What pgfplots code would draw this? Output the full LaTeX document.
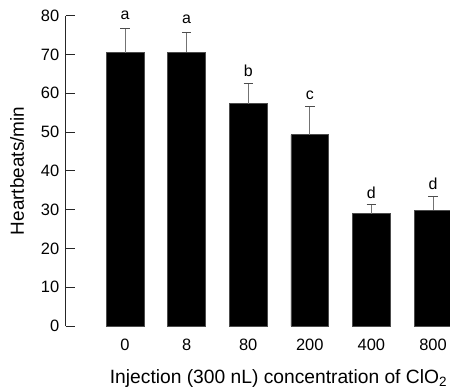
\documentclass[border=0pt]{standalone}
\usepackage{fontspec}
\setmainfont{Liberation Sans}
\usepackage{pgfplots}
\usepackage{pgfplotstable}
\pgfplotsset{compat=1.18}
\pgfplotstableread{
x y e
0 70.5 6.1
1 70.6 5.1
2 57.3 5.3
3 49.3 7.2
4 29.0 2.2
5 29.9 3.4
}\bars
\pgfplotstableread{
x y l
0 78.9 a
1 78.0 a
2 64.3 b
3 58.3 c
4 32.9 d
5 35.1 d
}\letters
\begin{document}
\begin{tikzpicture}[x=1bp,y=1bp]
\begin{axis}[
 at={(65.7bp,-326bp)}, anchor=south west,
 scale only axis, width=384.3bp, height=310.3bp,
 xmin=-0.963, xmax=5.276, ymin=0, ymax=80,
 axis y line*=left, axis x line*=bottom,
 x axis line style={draw=none},
 y axis line style={black!85, line width=0.8bp, -},
 ytick={0,10,...,80},
 xtick={0,...,5}, xticklabels={0,8,80,200,400,800},
 major x tick style={draw=none},
 tick align=inside, major tick length=9bp,
 major y tick style={black!85, line width=0.8bp},
 ticklabel style={font=\fontsize{16.5}{18}\selectfont},
 yticklabel style={xshift=-3bp},
 xticklabel style={yshift=-9bp},
 /pgf/number format/assume math mode=true,
 xlabel={Injection (300 nL) concentration of ClO\textsubscript{2}},
 ylabel={Heartbeats/min},
 xlabel style={font=\fontsize{19.3}{21}\selectfont, at={(axis description cs:0.5537,0)}, anchor=base, yshift=-57bp},
 ylabel style={font=\fontsize{19}{21}\selectfont, at={(axis description cs:0,0.5)}, anchor=base, yshift=41.7bp},
 clip=false,
]
\addplot[ybar, bar width=0.612, fill=black, draw=black!70, line width=0.6bp,
  error bars/.cd, y dir=plus, y explicit,
  error bar style={black!55, line width=1bp},
  error mark options={black!70, line width=1bp, mark size=4.7bp, rotate=90}]
  table[x=x, y=y, y error=e] {\bars};
\addplot[draw=none, mark=none, nodes near coords, point meta=explicit symbolic,
  every node near coord/.append style={anchor=base, inner sep=0pt, font=\fontsize{16}{18}\selectfont}]
  table[x=x, y=y, meta=l] {\letters};
\end{axis}
\pgfresetboundingbox
\path[use as bounding box] (0,0) rectangle (450,-390);
\end{tikzpicture}
\end{document}
